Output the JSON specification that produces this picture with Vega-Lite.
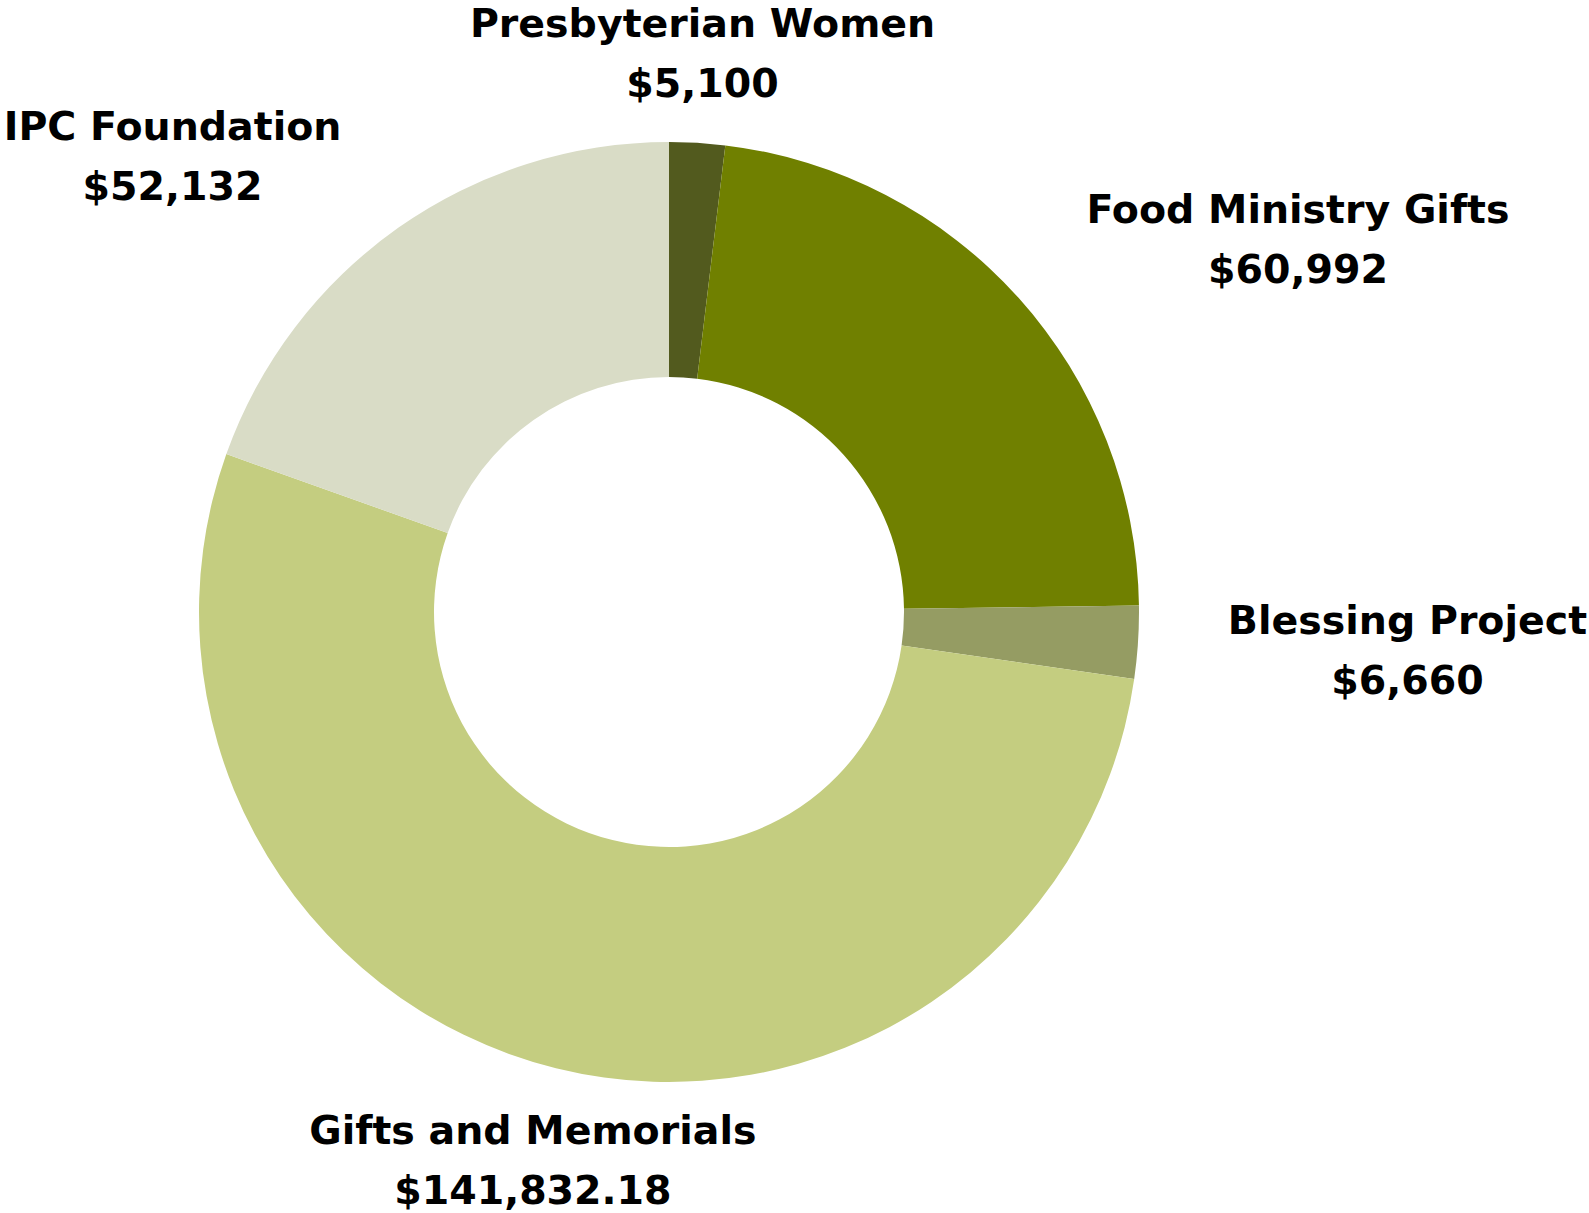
{
  "$schema": "https://vega.github.io/schema/vega-lite/v6.json",
  "width": 1338,
  "height": 1224,
  "autosize": {"type": "none"},
  "padding": {"left": 0, "top": 0, "right": 251, "bottom": 0},
  "background": "white",
  "config": {"view": {"stroke": null}},
  "data": {
    "values": [
      {"name": "Presbyterian Women", "amount": 5100, "rank": 1},
      {"name": "Food Ministry Gifts", "amount": 60992, "rank": 2},
      {"name": "Blessing Project", "amount": 6660, "rank": 3},
      {"name": "Gifts and Memorials", "amount": 141832.18, "rank": 4},
      {"name": "IPC Foundation", "amount": 52132, "rank": 5}
    ]
  },
  "transform": [
    {"calculate": "datum.name + '\\n' + format(datum.amount, '$,.2~f')", "as": "label"}
  ],
  "encoding": {
    "theta": {"field": "amount", "type": "quantitative", "stack": true},
    "order": {"field": "rank", "type": "quantitative"}
  },
  "layer": [
    {
      "mark": {"type": "arc", "outerRadius": 470, "innerRadius": 235},
      "encoding": {
        "color": {
          "field": "name",
          "type": "nominal",
          "scale": {
            "domain": ["Presbyterian Women", "Food Ministry Gifts", "Blessing Project", "Gifts and Memorials", "IPC Foundation"],
            "range": ["#525a1e", "#708000", "#959c63", "#c4cd80", "#d9dcc6"]
          },
          "legend": null
        }
      }
    },
    {
      "mark": {"type": "text", "radius": 559, "dy": -29, "font": "DejaVu Sans", "fontWeight": "bold", "fontSize": 39.5, "lineBreak": "\n", "lineHeight": 60, "align": "center", "baseline": "middle", "color": "black"},
      "encoding": {"text": {"condition": {"test": "datum.name === 'Presbyterian Women'", "field": "label", "type": "nominal"}, "value": ""}}
    },
    {
      "mark": {"type": "text", "radius": 722, "dx": 92, "dy": 82, "font": "DejaVu Sans", "fontWeight": "bold", "fontSize": 39.5, "lineBreak": "\n", "lineHeight": 60, "align": "center", "baseline": "middle", "color": "black"},
      "encoding": {"text": {"condition": {"test": "datum.name === 'Food Ministry Gifts'", "field": "label", "type": "nominal"}, "value": ""}}
    },
    {
      "mark": {"type": "text", "radius": 740, "dy": -38, "font": "DejaVu Sans", "fontWeight": "bold", "fontSize": 39.5, "lineBreak": "\n", "lineHeight": 60, "align": "center", "baseline": "middle", "color": "black"},
      "encoding": {"text": {"condition": {"test": "datum.name === 'Blessing Project'", "field": "label", "type": "nominal"}, "value": ""}}
    },
    {
      "mark": {"type": "text", "radius": 566, "dy": -29, "font": "DejaVu Sans", "fontWeight": "bold", "fontSize": 39.5, "lineBreak": "\n", "lineHeight": 60, "align": "center", "baseline": "middle", "color": "black"},
      "encoding": {"text": {"condition": {"test": "datum.name === 'Gifts and Memorials'", "field": "label", "type": "nominal"}, "value": ""}}
    },
    {
      "mark": {"type": "text", "radius": 662, "dx": -115, "dy": 57, "font": "DejaVu Sans", "fontWeight": "bold", "fontSize": 39.5, "lineBreak": "\n", "lineHeight": 60, "align": "center", "baseline": "middle", "color": "black"},
      "encoding": {"text": {"condition": {"test": "datum.name === 'IPC Foundation'", "field": "label", "type": "nominal"}, "value": ""}}
    }
  ]
}
